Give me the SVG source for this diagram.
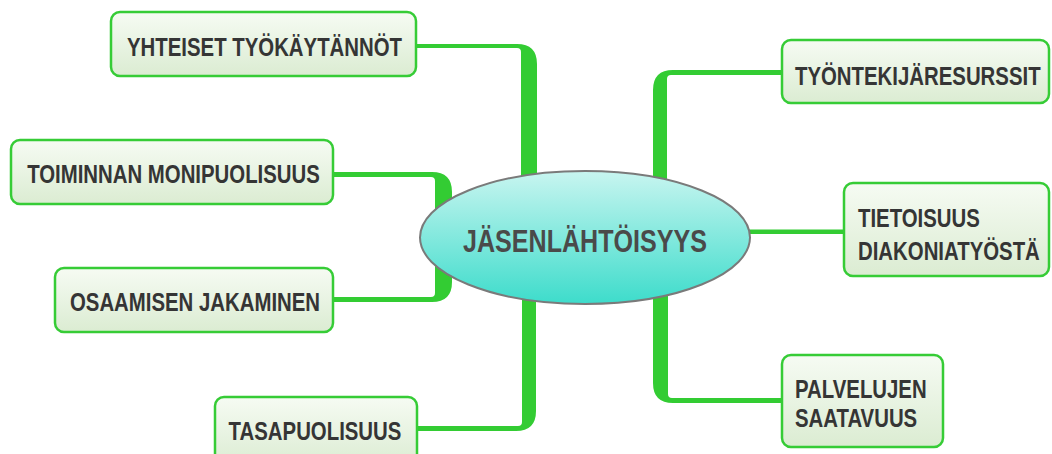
<svg xmlns="http://www.w3.org/2000/svg" width="1052" height="454" viewBox="0 0 1052 454">
<defs>
<linearGradient id="boxGrad" x1="0" y1="0" x2="0" y2="1">
<stop offset="0" stop-color="#f6fbf3"/>
<stop offset="1" stop-color="#dbecd2"/>
</linearGradient>
<linearGradient id="ellGrad" x1="0" y1="0" x2="0" y2="1">
<stop offset="0" stop-color="#c8f5f0"/>
<stop offset="1" stop-color="#3ddccb"/>
</linearGradient>
</defs>
<style>
.box{fill:url(#boxGrad);stroke:#36cc36;stroke-width:2.5}
.lbl{font-family:"Liberation Sans",Arial,sans-serif;font-weight:bold;font-size:25px;fill:#353535}
.mid{text-anchor:middle}
.conn{fill:#33cc33;stroke:none}
.main{fill:url(#ellGrad);stroke:#7a7a7a;stroke-width:2}
.mainlbl{font-family:"Liberation Sans",Arial,sans-serif;font-weight:bold;font-size:32px;fill:#4a4a4a;text-anchor:middle}
</style>
<rect width="1052" height="454" fill="#ffffff"/>
<g id="connectors">
<path class="conn" d="M416,44 L517,44 Q537,44 537,64 L537,200 L521,200 L521,52 Q521,48 517,48 L416,48 Z"/>
<path class="conn" d="M333,172 L432,172 Q452,172 452,192 L452,215 L435,215 L435,181 Q435,177 431,177 L333,177 Z"/>
<path class="conn" d="M333,297 L431,297 Q435,297 435,293 L435,260 L452,260 L452,282 Q452,302 432,302 L333,302 Z"/>
<path class="conn" d="M417,426 L518,426 Q522,426 522,422 L522,285 L536,285 L536,411 Q536,431 516,431 L417,431 Z"/>
<path class="conn" d="M782,70 L673,70 Q653,70 653,90 L653,190 L667,190 L667,79 Q667,75 671,75 L782,75 Z"/>
<rect class="conn" x="740" y="229.5" width="105" height="4.5"/>
<path class="conn" d="M782,398 L672,398 Q668,398 668,394 L668,285 L653,285 L653,383 Q653,403 673,403 L782,403 Z"/>
</g>
<g id="node-center">
<ellipse class="main" cx="585" cy="237.5" rx="165" ry="66.5"/>
<text class="mainlbl" transform="translate(585,252) scale(0.785,1)">JÄSENLÄHTÖISYYS</text>
</g>
<g id="node-yhteiset">
<rect class="box" x="111" y="12" width="305" height="64" rx="9"/>
<text class="lbl mid" transform="translate(264.5,56) scale(0.815,1)">YHTEISET TYÖKÄYTÄNNÖT</text>
</g>
<g id="node-toiminnan">
<rect class="box" x="11" y="140" width="322" height="64" rx="9"/>
<text class="lbl mid" transform="translate(173.5,183) scale(0.815,1)">TOIMINNAN MONIPUOLISUUS</text>
</g>
<g id="node-osaamisen">
<rect class="box" x="55" y="268" width="278" height="64" rx="9"/>
<text class="lbl mid" transform="translate(195,311) scale(0.815,1)">OSAAMISEN JAKAMINEN</text>
</g>
<g id="node-tasapuolisuus">
<rect class="box" x="215" y="397" width="202" height="70" rx="9"/>
<text class="lbl mid" transform="translate(315,440) scale(0.815,1)">TASAPUOLISUUS</text>
</g>
<g id="node-tyontekija">
<rect class="box" x="782" y="40" width="267" height="63" rx="9"/>
<text class="lbl" transform="translate(795,85) scale(0.815,1)">TYÖNTEKIJÄRESURSSIT</text>
</g>
<g id="node-tietoisuus">
<rect class="box" x="844" y="183" width="205" height="93" rx="9"/>
<text class="lbl" transform="translate(858,227) scale(0.815,1)">TIETOISUUS</text>
<text class="lbl" transform="translate(858,260) scale(0.815,1)">DIAKONIATYÖSTÄ</text>
</g>
<g id="node-palvelujen">
<rect class="box" x="782" y="355" width="161" height="92" rx="9"/>
<text class="lbl" transform="translate(795,398) scale(0.815,1)">PALVELUJEN</text>
<text class="lbl" transform="translate(795,427) scale(0.815,1)">SAATAVUUS</text>
</g>
</svg>
